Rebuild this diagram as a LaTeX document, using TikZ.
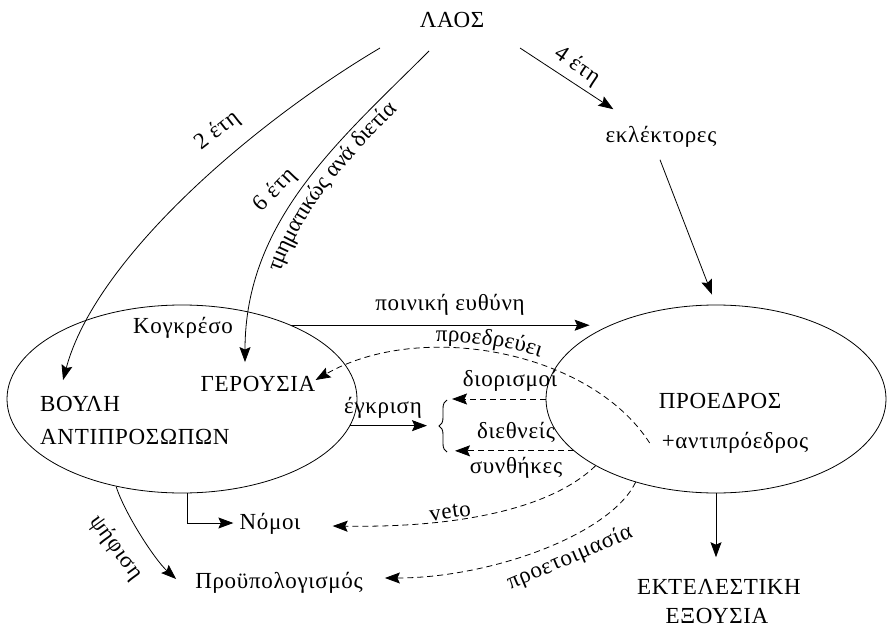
\documentclass[tikz,border=0pt]{standalone}
\usepackage{fontspec}
\setmainfont{Liberation Serif}[LetterSpace=3]
\usetikzlibrary{arrows.meta,calc,shapes.geometric,decorations.text,decorations.pathreplacing}
\newcommand{\bigfont}{\fontsize{23}{27}\selectfont}
\begin{document}
\begin{tikzpicture}[x=1pt,y=-1pt,
  every node/.style={font=\bigfont, inner sep=2pt},
  ell/.style={draw, ellipse, line width=0.8pt, inner sep=0pt},
  arr/.style={line width=0.8pt, -{Stealth[length=15pt,width=11pt,inset=2.5pt]}},
  darr/.style={arr, dash pattern=on 6pt off 4pt},
  curvetext/.style={decorate, decoration={text along path, text={|\bigfont|#1}}},
]
\useasboundingbox (0,0) rectangle (887,629);

% ellipses
\node[ell, minimum width=350pt, minimum height=188pt] (cong) at (182,399) {};
\node[ell, minimum width=340pt, minimum height=188pt] (pres) at (716,399) {};

% text nodes
\node (laos) at (452,20) {ΛΑΟΣ};
\node (ekl) at (661,137) {εκλέκτορες};
\node (kogk) at (183,328) {Κογκρέσο};
\node (ger) at (258,384) {ΓΕΡΟΥΣΙΑ};
\node[anchor=west] (vouli) at (38,404) {ΒΟΥΛΗ};
\node[anchor=west] (antipros) at (38,437) {ΑΝΤΙΠΡΟΣΩΠΩΝ};
\node (proedros) at (720,401) {ΠΡΟΕΔΡΟΣ};
\node (antipr) at (735,443) {+αντιπρόεδρος};
\node (ekt1) at (719,587) {ΕΚΤΕΛΕΣΤΙΚΗ};
\node (ekt2) at (717,616) {ΕΞΟΥΣΙΑ};
\node (nomoi) at (270,524) {Νόμοι};
\node (budget) at (279,583) {Προϋπολογισμός};

% labels
\node (lpoin) at (450,305) {ποινική ευθύνη};
\node (legkr) at (383,408) {έγκριση};
\node (ldior) at (510,381) {διορισμοί};
\node (ldieth) at (516,432) {διεθνείς};
\node (lsynth) at (516,468) {συνθήκες};
\node[rotate=8] (lveto) at (450,512) {veto};
\node[rotate=23] (lprot) at (570,558) {προετοιμασία};
\node[rotate=-54] (lpsif) at (116,548) {ψήφιση};
\node[rotate=38] (l2) at (218,131) {2 έτη};
\node[rotate=46] (l6) at (275,190) {6 έτη};
\node[rotate=-34] (l4) at (577,66) {4 έτη};

% brace
\coordinate (brace) at (441,426);
\draw[line width=0.9pt, decorate, decoration={brace, amplitude=8pt}] (447,452) -- (447,400);

% connectors from ΛΑΟΣ
\draw[arr] ($(laos)+(-72,28)$) .. controls (250,125) and (95,260) .. ($(vouli.north)+(-17,-14)$);
\draw[arr] ($(laos)+(-23,31)$) .. controls (340,140) and (245,220) .. ($(ger.north)+(-13,-12)$);
\path[curvetext={τμηματικώς ανά διετία}, decoration={text align={center, left indent=74pt, right indent=40pt}, raise=-20pt}]
  (245,362) .. controls (245,220) and (340,140) .. (429,51);
\draw[arr] ($(laos)+(68,28)$) -- ($(ekl.north west)+(10,-15)$);
\draw[arr] ($(ekl.south)+(-1,10)$) -- ($(pres.north)+(-4,-10)$);

% Congress -> President
\draw[arr] (cong.34) -- ($(cong.34 -| pres.west)+(44,0)$);

% προεδρεύει
\draw[darr] ($(antipr.west)+(-10,0)$) .. controls (590,350) and (420,320) .. ($(ger.east)+(-2,-4)$);
\path[curvetext={προεδρεύει}, decoration={text align={left, left indent=128pt}, raise=7pt}]
  (313,380) .. controls (420,320) and (590,350) .. (650,443);

% έγκριση and treaties
\draw[arr] (cong.-9) -- ($(cong.-9 -| brace)+(-14,0)$);
\draw[darr] (pres.west) -- ($(pres.west -| brace)+(11,0)$);
\draw[darr] (pres.200) -- ($(pres.200 -| brace)+(14,0)$);

% veto, προετοιμασία
\draw[darr] (pres.209) .. controls (555,505) and (470,528) .. ($(nomoi.east)+(30,2)$);
\draw[darr] (pres.226) .. controls (610,535) and (490,578) .. ($(budget.east)+(20,-5)$);

% ψήφιση, Νόμοι
\draw[arr] (cong.233) .. controls (125,514) and (155,560) .. ($(budget.west)+(-17,-4)$);
\draw[arr] ($(cong.south)+(5,0)$) |- ($(nomoi.west)+(-4,-1)$);

% executive
\draw[arr] (pres.south) -- ($(pres.south |- ekt1.north)+(0,-20)$);
\end{tikzpicture}
\end{document}
